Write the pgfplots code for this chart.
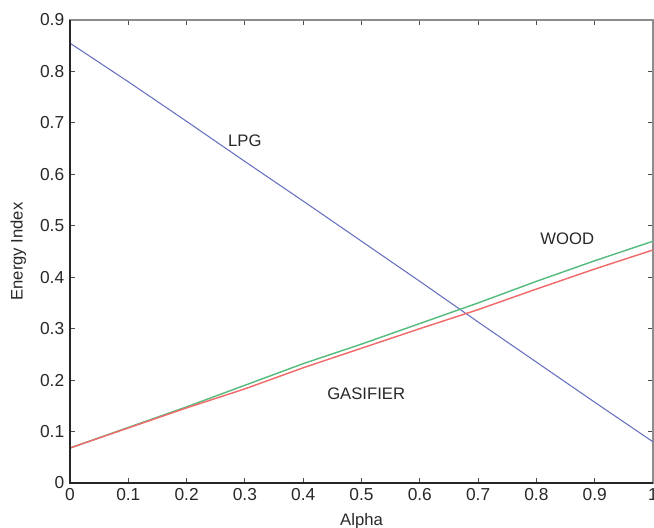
\documentclass[border=0pt]{standalone}
\usepackage{fontspec}
\setmainfont{Liberation Sans}
\usepackage{pgfplots}
\pgfplotsset{compat=1.18}
\definecolor{lpgc}{RGB}{104,112,192}
\definecolor{woodc}{RGB}{88,188,128}
\definecolor{gasc}{RGB}{240,108,108}
\definecolor{txtc}{RGB}{40,40,40}
\begin{document}
\fontsize{12.5}{15}\selectfont
\begin{tikzpicture}
\begin{axis}[
  scale only axis,width=437.25pt,height=347.25pt,
  xmin=0,xmax=1,ymin=0,ymax=0.9,
  xtick={0,0.1,...,1.0},ytick={0,0.1,...,0.9},
  xticklabels={0,0.1,0.2,0.3,0.4,0.5,0.6,0.7,0.8,0.9,1},
  yticklabels={0,0.1,0.2,0.3,0.4,0.5,0.6,0.7,0.8,0.9},
  tick align=inside,major tick length=4pt,
  tick style={black!70,line width=0.6pt},
  axis line style={black!45,line width=0.8pt},
  ticklabel style={font=\fontsize{13}{15}\selectfont,text=txtc},
  /pgf/number format/assume math mode=true,
  xlabel={Alpha},ylabel={Energy Index},
  label style={font=\fontsize{12.5}{15}\selectfont,text=txtc},
  xlabel style={yshift=-1pt},
  ylabel style={yshift=2pt},
  clip=false,
]
  \addplot[lpgc,line width=0.8pt] coordinates {(0,0.855) (0.1,0.78) (0.2,0.703) (0.3,0.625) (0.4,0.548) (0.5,0.47) (0.6,0.392) (0.7,0.313) (0.8,0.235) (0.9,0.157) (1,0.08)};
  \addplot[woodc,line width=1.1pt] coordinates {(0,0.068) (0.1,0.108) (0.2,0.148) (0.3,0.19) (0.4,0.232) (0.5,0.27) (0.6,0.31) (0.7,0.35) (0.8,0.392) (0.9,0.432) (1,0.47)};
  \addplot[gasc,line width=1.1pt] coordinates {(0,0.068) (0.1,0.107) (0.2,0.146) (0.3,0.183) (0.4,0.224) (0.5,0.262) (0.6,0.3) (0.7,0.337) (0.8,0.377) (0.9,0.416) (1,0.453)};
  \node[text=txtc] at (axis cs:0.3,0.665) {LPG};
  \node[text=txtc] at (axis cs:0.853,0.474) {WOOD};
  \node[text=txtc] at (axis cs:0.508,0.173) {GASIFIER};
  \draw[black!85,line width=1.3pt] (rel axis cs:0,1) -- (rel axis cs:0,0) -- (rel axis cs:1,0);
\end{axis}
\pgfresetboundingbox
\useasboundingbox (-52.5pt,-33.75pt) rectangle (438pt,362.25pt);
\end{tikzpicture}
\end{document}
